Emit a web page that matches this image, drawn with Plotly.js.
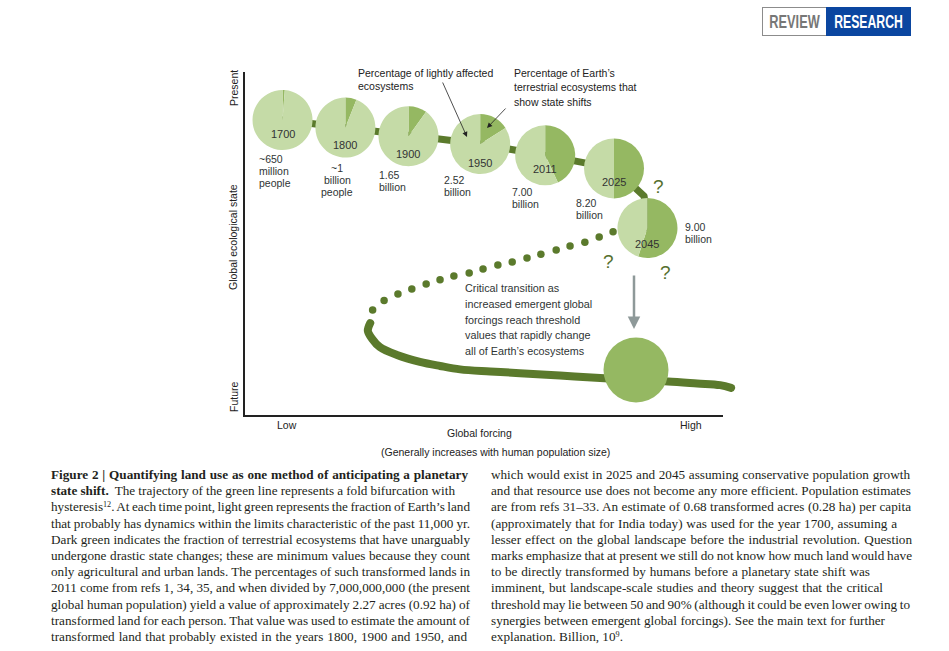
<!DOCTYPE html>
<html><head><meta charset="utf-8">
<script src="https://cdn.plot.ly/plotly-3.0.1.min.js"></script>
<style>
html,body{margin:0;padding:0;background:#fff;width:949px;height:651px;overflow:hidden;}
#chart{position:absolute;left:0;top:0;width:949px;height:651px;}
.cap{position:absolute;white-space:nowrap;font-family:"Liberation Serif","Times New Roman",serif;font-size:13.2px;line-height:16px;color:#231f20;}
.cap sup{font-size:0.62em;line-height:0;vertical-align:0.55em;}
.scatterlayer .js-line{stroke-linecap:round;stroke-linejoin:round;}
.hbox{position:absolute;top:7px;height:29px;box-sizing:border-box;display:flex;align-items:center;justify-content:center;
  font-family:"Liberation Sans",Arial,sans-serif;font-weight:700;font-size:18px;line-height:18px;}
.hbox span{display:inline-block;white-space:nowrap;}
#hrv{left:762px;width:64px;border:1px solid #8c8c8c;border-right:none;color:#777;background:#fff;}
#hrs{left:826px;width:85px;background:#0b46a0;color:#fff;}
#hrv span{transform:scaleX(0.71);}
#hrs span{transform:scaleX(0.68);}
</style></head><body>
<div id="chart"></div>
<div class="hbox" id="hrv"><span>REVIEW</span></div>
<div class="hbox" id="hrs"><span>RESEARCH</span></div>
<script>
// ---------------- data ----------------
const years = ['1700', '1800', '1900', '1950', '2011', '2025', '2045'];
const populationLabels = [
  ['~650', 'million', 'people'],
  ['~1', 'billion', 'people'],
  ['1.65', 'billion'],
  ['2.52', 'billion'],
  ['7.00', 'billion'],
  ['8.20', 'billion'],
  ['9.00', 'billion']
];
// % of Earth's terrestrial ecosystems showing state shifts (dark green)
const shiftedPercent = [1.2, 6, 10, 16, 43, 50, 55];
// position of each time point on the fold (global forcing, global ecological state; axis 0-100)
const pieForcing = [7.85, 21.0, 34.2, 49.2, 62.8, 77.2, 84.2];
const pieState   = [86.0, 83.8, 81.3, 79.0, 75.7, 71.9, 54.5];
// future (shifted) state
const futureForcing = [81.8];
const futureState = [13.1];
const futureShifted = [100];
// upper (stable) branch of the fold
const upperForcing = [7.85, 21.0, 34.2, 49.2, 62.8, 77.2, 83.5, 84.2];
const upperState   = [86.0, 83.8, 81.3, 79.0, 75.7, 71.9, 63.8, 54.5];
// unstable (dotted) branch
const unstableForcing = [77.0, 74.1, 71.1, 68.0, 65.1, 61.9, 59.0, 55.9, 52.9, 49.8, 46.9, 43.7, 40.8, 37.9, 34.9, 32.0, 29.1, 26.7];
const unstableState   = [53.4, 51.9, 50.4, 49.3, 48.1, 46.9, 45.8, 44.6, 43.7, 42.6, 41.4, 40.5, 39.4, 38.2, 36.7, 35.3, 33.4, 30.6];
// lower (alternative stable) branch
const lowerForcing = [26.2, 25.7, 26.6, 28.2, 31.8, 36.6, 40.8, 45.0, 51.3, 57.5, 65.9, 74.3, 82.6, 88.5, 94.6, 99.4, 101.7];
const lowerState   = [26.8, 24.5, 22.2, 19.8, 17.5, 15.5, 14.3, 13.3, 12.7, 12.2, 11.5, 10.8, 10.2, 9.8, 9.2, 8.7, 7.9];

const captionLeft = [
  '<b>Figure 2 | Quantifying land use as one method of anticipating a planetary</b>',
  '<b>state shift.</b>&nbsp; The trajectory of the green line represents a fold bifurcation with',
  'hysteresis<sup>12</sup>. At each time point, light green represents the fraction of Earth’s land',
  'that probably has dynamics within the limits characteristic of the past 11,000 yr.',
  'Dark green indicates the fraction of terrestrial ecosystems that have unarguably',
  'undergone drastic state changes; these are minimum values because they count',
  'only agricultural and urban lands. The percentages of such transformed lands in',
  '2011 come from refs 1, 34, 35, and when divided by 7,000,000,000 (the present',
  'global human population) yield a value of approximately 2.27 acres (0.92 ha) of',
  'transformed land for each person. That value was used to estimate the amount of',
  'transformed land that probably existed in the years 1800, 1900 and 1950, and'
];
const captionRight = [
  'which would exist in 2025 and 2045 assuming conservative population growth',
  'and that resource use does not become any more efficient. Population estimates',
  'are from refs 31–33. An estimate of 0.68 transformed acres (0.28 ha) per capita',
  '(approximately that for India today) was used for the year 1700, assuming a',
  'lesser effect on the global landscape before the industrial revolution. Question',
  'marks emphasize that at present we still do not know how much land would have',
  'to be directly transformed by humans before a planetary state shift was',
  'imminent, but landscape-scale studies and theory suggest that the critical',
  'threshold may lie between 50 and 90% (although it could be even lower owing to',
  'synergies between emergent global forcings). See the main text for further',
  'explanation. Billion, 10<sup>9</sup>.'
];

// ---------------- styling / layout ----------------
const LIGHT = '#c5dba7', MID = '#95b862', OLIVE = '#5b7a2c', TXT = '#2b2b2b';
const SANS = 'Liberation Sans, Arial, Helvetica, sans-serif';
const PL = 245, PT = 72, PW = 495, PH = 343;        // plot area in px (x axis line stops at 723 px)
const PX_PER_UNIT = 4.78;                            // 0-100 forcing spans 245..723 px
const XMAX = PW / PX_PER_UNIT;
const R_PIE = 30, R_FUTURE = 32.5;
const fx = p => (p - PL) / PW, fy = p => (PT + PH - p) / PH;
const F = (size, color, extra) => Object.assign({family: SANS, size: size, color: color || TXT}, extra || {});

function txt(text, x, y, o) {
  return Object.assign({text: text, xref: 'paper', yref: 'paper', x: fx(x), y: fy(y), showarrow: false,
    xanchor: 'left', yanchor: 'middle', font: F(10.5)}, o || {});
}
function block(lines, x, y0, dy, anchor, font) {
  return lines.map((t, i) => txt(t, x, y0 + i * dy, {xanchor: anchor || 'left', align: anchor || 'left', font: font || F(10.5)}));
}

const traces = [];
traces.push({type: 'scatter', mode: 'lines', x: upperForcing, y: upperState, line: {color: OLIVE, width: 7},
  hoverinfo: 'skip', showlegend: false});
traces.push({type: 'scatter', mode: 'markers', x: unstableForcing, y: unstableState,
  marker: {color: OLIVE, size: 7.5, line: {width: 0}}, hoverinfo: 'skip', showlegend: false});
traces.push({type: 'scatter', mode: 'lines', x: lowerForcing, y: lowerState,
  line: {color: OLIVE, width: 8, shape: 'spline', smoothing: 1}, hoverinfo: 'skip', showlegend: false});

function pieTrace(fc, st, pct, r) {
  const cx = fc / XMAX, cy = st / 100, rx = r / PW, ry = r / PH;
  return {type: 'pie', values: pct >= 100 ? [100] : [pct, 100 - pct], sort: false, direction: 'clockwise', rotation: 0,
    marker: {colors: pct >= 100 ? [MID] : [MID, LIGHT], line: {width: 0}}, textinfo: 'none', hoverinfo: 'skip',
    showlegend: false, domain: {x: [cx - rx, cx + rx], y: [cy - ry, cy + ry]}};
}
years.forEach((y, i) => traces.push(pieTrace(pieForcing[i], pieState[i], shiftedPercent[i], R_PIE)));
traces.push(pieTrace(futureForcing[0], futureState[0], futureShifted[0], R_FUTURE));

const YEAR_DY = [13.5, 17, 18, 19, 14, 14, 16];
const POP_POS = [[257, 159, 'left'], [337, 168, 'center'], [377, 175, 'left'], [442, 180, 'left'],
                 [510, 192, 'left'], [574, 203, 'left'], [683, 227, 'left']];

let ann = [];
years.forEach((y, i) => ann.push({text: y, xref: 'x', yref: 'y', x: pieForcing[i], y: pieState[i], yshift: -YEAR_DY[i],
  showarrow: false, xanchor: 'center', yanchor: 'middle', font: F(11, '#333')}));
populationLabels.forEach((lines, i) => {
  const p = POP_POS[i];
  ann = ann.concat(block(lines, p[0], p[1], 11.8, p[2], F(10.5, '#2f3535')));
});
ann = ann.concat(block(['Percentage of lightly affected', 'ecosystems'], 356, 73, 12.5, 'left', F(10.5, '#222')));
ann = ann.concat(block(['Percentage of Earth’s', 'terrestrial ecosystems that', 'show state shifts'], 512, 73, 14.3, 'left', F(10.5, '#222')));
ann = ann.concat(block(['Critical transition as', 'increased emergent global', 'forcings reach threshold',
  'values that rapidly change', 'all of Earth’s ecosystems'], 463, 288, 15.8, 'left', F(10.8, '#2f3535')));
// arrows
ann.push({text: '', xref: 'paper', yref: 'paper', x: fx(467), y: fy(137), ax: -25, ay: -56, showarrow: true,
  arrowhead: 2, arrowsize: 1.3, arrowwidth: 0.8, arrowcolor: '#222'});
ann.push({text: '', xref: 'paper', yref: 'paper', x: fx(487), y: fy(128), ax: 20, ay: -21, showarrow: true,
  arrowhead: 2, arrowsize: 1.3, arrowwidth: 0.8, arrowcolor: '#222'});
ann.push({text: '', xref: 'paper', yref: 'paper', x: fx(634), y: fy(329), ax: 0, ay: -55, showarrow: true,
  arrowhead: 2, arrowsize: 1, arrowwidth: 2.5, arrowcolor: '#8e9999'});
// question marks
[[658, 186], [608, 261], [665, 272]].forEach(q => ann.push(txt('?', q[0], q[1], {xanchor: 'center', font: F(19, '#56702e')})));
// axis labels
ann.push(txt('Low', 287, 425, {xanchor: 'center', font: F(10.5, '#222')}));
ann.push(txt('High', 691, 425, {xanchor: 'center', font: F(10.5, '#222')}));
ann.push(txt('Global forcing', 479, 433, {xanchor: 'center', font: F(10.5, '#222')}));
ann.push(txt('(Generally increases with human population size)', 495.5, 452, {xanchor: 'center', font: F(10.5, '#222')}));
ann.push(txt('Present', 234, 88, {xanchor: 'center', textangle: -90, font: F(10.5, '#222')}));
ann.push(txt('Global ecological state', 233, 237, {xanchor: 'center', textangle: -90, font: F(10.5, '#222')}));
ann.push(txt('Future', 234, 397, {xanchor: 'center', textangle: -90, font: F(10.5, '#222')}));

// x axis baseline (stops short of the curve end, as in the reference)
const shapes = [
  {type: 'line', xref: 'paper', yref: 'paper', x0: fx(243), x1: fx(723), y0: fy(416), y1: fy(416),
   line: {color: '#222', width: 2}, layer: 'above'}
];

const layout = {
  width: 949, height: 651, autosize: false,
  margin: {l: PL, r: 949 - PL - PW, t: PT, b: 651 - PT - PH, pad: 0},
  paper_bgcolor: '#fff', plot_bgcolor: 'rgba(0,0,0,0)',
  xaxis: {range: [0, XMAX], domain: [0, 1], showgrid: false, zeroline: false, showticklabels: false, ticks: '',
          showline: false, fixedrange: true},
  yaxis: {range: [0, 100], domain: [0, 1], showgrid: false, zeroline: false, showticklabels: false, ticks: '',
          showline: true, linecolor: '#222', linewidth: 2, fixedrange: true},
  showlegend: false, annotations: ann, shapes: shapes
};

Plotly.newPlot('chart', traces, layout, {displayModeBar: false, staticPlot: true});

// ---------------- caption (justified lines) ----------------
const LEFT_X = 51, RIGHT_X = 491, CAP_Y0 = 475, CAP_DY = 16.2;
const leftEnds = [468, 455, 470, 470, 470, 470, 470, 470, 470, 470, 467];
const rightEnds = [910, 911, 911, 897, 912, 912, 870, 883, 910, 885, null];
function caption(lines, left, ends) {
  lines.forEach((html, i) => {
    const d = document.createElement('div');
    d.className = 'cap';
    d.innerHTML = html;
    d.style.left = left + 'px';
    d.style.top = (CAP_Y0 - 8 + i * CAP_DY) + 'px';
    document.body.appendChild(d);
    if (ends[i] == null) return;
    const w = d.getBoundingClientRect().width;
    const n = (d.textContent.match(/[ \u00a0]/g) || []).length;
    let diff = ends[i] - left - w;
    let ws = n ? diff / n : 0;
    if (ws < -1.2) ws = -1.2;
    d.style.wordSpacing = ws + 'px';
    const rest = diff - ws * n;
    if (Math.abs(rest) > 0.5) d.style.letterSpacing = (rest / d.textContent.length) + 'px';
  });
}
function buildCaption() { caption(captionLeft, LEFT_X, leftEnds); caption(captionRight, RIGHT_X, rightEnds); }
if (document.fonts && document.fonts.ready) document.fonts.ready.then(buildCaption); else buildCaption();
</script></body></html>
